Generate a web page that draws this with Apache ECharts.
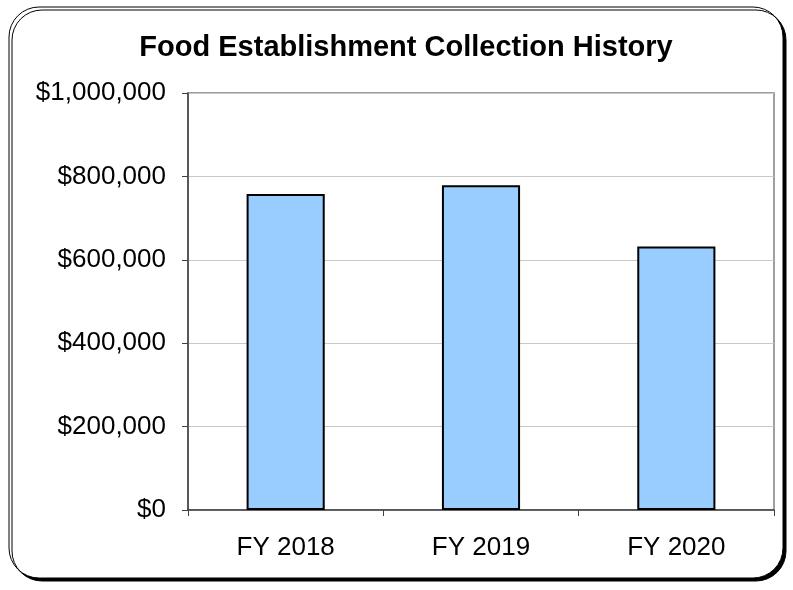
<!DOCTYPE html>
<html><head><meta charset="utf-8">
<script src="https://cdn.jsdelivr.net/npm/echarts@6/dist/echarts.min.js"></script>
<style>html,body{margin:0;padding:0;background:#fff}#c{width:793px;height:590px}</style>
</head><body><div id="c"></div>
<script>
const categories = ['FY 2018', 'FY 2019', 'FY 2020'];
const collections = [758000, 779000, 632000];
const yTicks = [0, 200000, 400000, 600000, 800000, 1000000];

const chart = echarts.init(document.getElementById('c'), null, {renderer: 'canvas'});
const fmt = v => '$' + v.toLocaleString('en-US');
chart.setOption({
  animation: false,
  backgroundColor: '#fff',
  title: {
    text: 'Food Establishment Collection History',
    left: 401, top: 28, textAlign: 'center',
    textStyle: {fontFamily: 'Liberation Sans, Arial', fontSize: 29, fontWeight: 'bold', color: '#000'}
  },
  graphic: [{
    type: 'rect', z: -10,
    shape: {x: 9, y: 7, width: 774, height: 571, r: 30},
    style: {fill: '#fff', stroke: '#000', lineWidth: 1, shadowColor: '#000', shadowOffsetX: 3, shadowOffsetY: 3, shadowBlur: 0}
  }],
  grid: {left: 188, right: 19, top: 93, bottom: 80, show: true, borderColor: '#808080', borderWidth: 1.5, backgroundColor: 'transparent'},
  xAxis: {
    type: 'category', data: categories,
    axisLine: {lineStyle: {color: '#404040', width: 1.5}},
    axisTick: {show: true, length: 6, lineStyle: {color: '#404040'}},
    axisLabel: {fontFamily: 'Liberation Sans, Arial', fontSize: 26, color: '#000', margin: 25}
  },
  yAxis: {
    type: 'value', min: yTicks[0], max: yTicks[yTicks.length - 1], interval: yTicks[1] - yTicks[0],
    axisLine: {show: true, lineStyle: {color: '#404040', width: 1.5}},
    axisTick: {show: true, length: 6, lineStyle: {color: '#404040'}},
    splitLine: {lineStyle: {color: '#c8c8c8', width: 1}},
    axisLabel: {fontFamily: 'Liberation Sans, Arial', fontSize: 26, color: '#000', margin: 22, formatter: fmt}
  },
  series: [{
    type: 'bar', data: collections, barWidth: '40%',
    itemStyle: {color: '#99CCFF', borderColor: '#000', borderWidth: 2}
  }]
});
</script></body></html>
